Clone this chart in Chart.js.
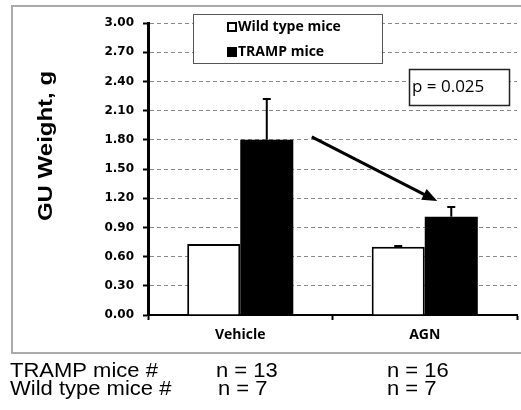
<!DOCTYPE html>
<html>
<head>
<meta charset="UTF-8">
<title>GU Weight</title>
<script src="https://cdn.jsdelivr.net/npm/chart.js"></script>
<style>
  html, body { margin: 0; padding: 0; background: #fff; }
  #wrap { width: 521px; height: 410px; position: relative; }
</style>
</head>
<body>
<div id="wrap"><canvas id="myChart" width="521" height="410"></canvas></div>
<script>
  // dados
  var grupos = ['Vehicle', 'AGN'];
  var wildType = [0.73, 0.70];
  var wildErr = [0, 0.01];
  var tramp = [1.80, 1.01];
  var trampErr = [0.42, 0.10];
  var yTicks = [0, 0.3, 0.6, 0.9, 1.2, 1.5, 1.8, 2.1, 2.4, 2.7, 3.0];
  var nTramp = ['n = 13', 'n = 16'];
  var nWild = ['n = 7', 'n = 7'];
  var pTexto = 'p = 0.025';

  var extras = {
    id: 'extras',
    afterDatasetsDraw: function (chart) {
      var ctx = chart.ctx;
      var y = chart.scales.y;
      ctx.save();

      // barras de erro (so para cima)
      ctx.strokeStyle = '#000';
      ctx.lineWidth = 2;
      [[0, wildType, wildErr], [1, tramp, trampErr]].forEach(function (s) {
        var meta = chart.getDatasetMeta(s[0]);
        meta.data.forEach(function (bar, i) {
          if (!s[2][i]) return;
          var top = y.getPixelForValue(s[1][i] + s[2][i]);
          var base = y.getPixelForValue(s[1][i]);
          ctx.beginPath();
          ctx.moveTo(bar.x, base);
          ctx.lineTo(bar.x, top);
          ctx.moveTo(bar.x - 4, top);
          ctx.lineTo(bar.x + 4, top);
          ctx.stroke();
        });
      });

      // seta Vehicle -> AGN
      var b0 = chart.getDatasetMeta(1).data[0];
      var b1 = chart.getDatasetMeta(1).data[1];
      var x0 = b0.x + 45, y0 = y.getPixelForValue(1.83);
      var x1 = b1.x - 14, y1 = y.getPixelForValue(1.17);
      var ang = Math.atan2(y1 - y0, x1 - x0);
      ctx.lineWidth = 3;
      ctx.beginPath();
      ctx.moveTo(x0, y0);
      ctx.lineTo(x1 - 10 * Math.cos(ang), y1 - 10 * Math.sin(ang));
      ctx.stroke();
      ctx.fillStyle = '#000';
      ctx.beginPath();
      ctx.moveTo(x1, y1);
      ctx.lineTo(x1 - 15 * Math.cos(ang) + 6 * Math.sin(ang), y1 - 15 * Math.sin(ang) - 6 * Math.cos(ang));
      ctx.lineTo(x1 - 15 * Math.cos(ang) - 6 * Math.sin(ang), y1 - 15 * Math.sin(ang) + 6 * Math.cos(ang));
      ctx.closePath();
      ctx.fill();

      // caixa do p
      ctx.fillStyle = '#fff';
      ctx.fillRect(409, 69, 100, 36);
      ctx.lineWidth = 1.5;
      ctx.strokeStyle = '#222';
      ctx.strokeRect(409.5, 69.5, 100, 36);
      ctx.fillStyle = '#000';
      ctx.font = '17px "Open Sans", sans-serif';
      ctx.textAlign = 'left';
      ctx.textBaseline = 'middle';
      ctx.fillText(pTexto, 412, 87);

      // legenda
      ctx.fillStyle = '#fff';
      ctx.fillRect(193, 14, 189, 49);
      ctx.lineWidth = 1;
      ctx.strokeStyle = '#555';
      ctx.strokeRect(193.5, 14.5, 189, 49);
      var itens = [[chart.data.datasets[0], 27], [chart.data.datasets[1], 52]];
      ctx.font = 'bold 14px "Open Sans", sans-serif';
      itens.forEach(function (it) {
        var ds = it[0], cy = it[1];
        ctx.fillStyle = ds.backgroundColor;
        ctx.fillRect(227, cy - 5, 10, 10);
        ctx.lineWidth = 2;
        ctx.strokeStyle = '#000';
        ctx.strokeRect(228, cy - 4, 8, 8);
        ctx.fillStyle = '#000';
        ctx.fillText(ds.label, 238, cy);
      });

      ctx.restore();
    },
    afterDraw: function (chart) {
      var ctx = chart.ctx;
      ctx.save();
      // moldura
      ctx.strokeStyle = '#aaa';
      ctx.lineWidth = 2;
      ctx.strokeRect(12, 6, 530, 347);

      // titulo do eixo y
      ctx.fillStyle = '#000';
      ctx.translate(46, 146);
      ctx.rotate(-Math.PI / 2);
      ctx.scale(1.2, 1);
      ctx.font = 'bold 20px "Liberation Sans", Arial, sans-serif';
      ctx.textAlign = 'center';
      ctx.textBaseline = 'middle';
      ctx.fillText('GU Weight, g', 0, 0);
      ctx.setTransform(1, 0, 0, 1, 0, 0);

      // contagens
      ctx.font = '20px "Liberation Sans", Arial, sans-serif';
      ctx.textAlign = 'left';
      ctx.textBaseline = 'alphabetic';
      var linhas = [
        ['TRAMP mice #', 10, 377], ['Wild type mice #', 10, 395],
        [nTramp[0], 216, 377], [nWild[0], 218, 395],
        [nTramp[1], 387, 377], [nWild[1], 387, 395]
      ];
      linhas.forEach(function (l) {
        ctx.setTransform(1.1, 0, 0, 1, l[1], 0);
        ctx.fillText(l[0], 0, l[2]);
      });
      ctx.restore();
    }
  };

  var ctx = document.getElementById('myChart').getContext('2d');
  var myChart = new Chart(ctx, {
    type: 'bar',
    data: {
      labels: grupos,
      datasets: [{
        label: 'Wild type mice',
        data: wildType,
        backgroundColor: '#ffffff',
        borderColor: '#000000',
        borderWidth: 2,
        borderSkipped: 'bottom'
      }, {
        label: 'TRAMP mice',
        data: tramp,
        backgroundColor: '#000000',
        borderColor: '#000000',
        borderWidth: 0
      }]
    },
    options: {
      responsive: false,
      animation: false,
      categoryPercentage: 0.575,
      barPercentage: 1,
      layout: { padding: { left: 12, top: 23, right: 4, bottom: 57 } },
      plugins: {
        legend: { display: false },
        tooltip: { enabled: false }
      },
      scales: {
        x: {
          grid: { drawOnChartArea: false, drawTicks: true, tickLength: 5, tickColor: '#000', tickWidth: 2 },
          border: { color: '#000', width: 2 },
          ticks: {
            color: '#000',
            padding: 7,
            font: { family: '"Open Sans", sans-serif', size: 14, weight: 'bold' }
          },
          afterFit: function (s) { s.height = 38; }
        },
        y: {
          min: 0,
          max: 3,
          afterBuildTicks: function (s) {
            s.ticks = yTicks.map(function (v) { return { value: v }; });
          },
          grid: { color: '#888', lineWidth: 1, tickColor: '#000', tickLength: 5, tickWidth: 2 },
          border: { color: '#000', width: 3, dash: [4, 3] },
          ticks: {
            color: '#000',
            padding: 9,
            font: { family: '"DejaVu Sans", sans-serif', size: 12, weight: 'bold' },
            callback: function (v) { return Number(v).toFixed(2); }
          },
          afterFit: function (s) { s.width = 136; }
        }
      }
    },
    plugins: [extras]
  });
</script>
</body>
</html>
